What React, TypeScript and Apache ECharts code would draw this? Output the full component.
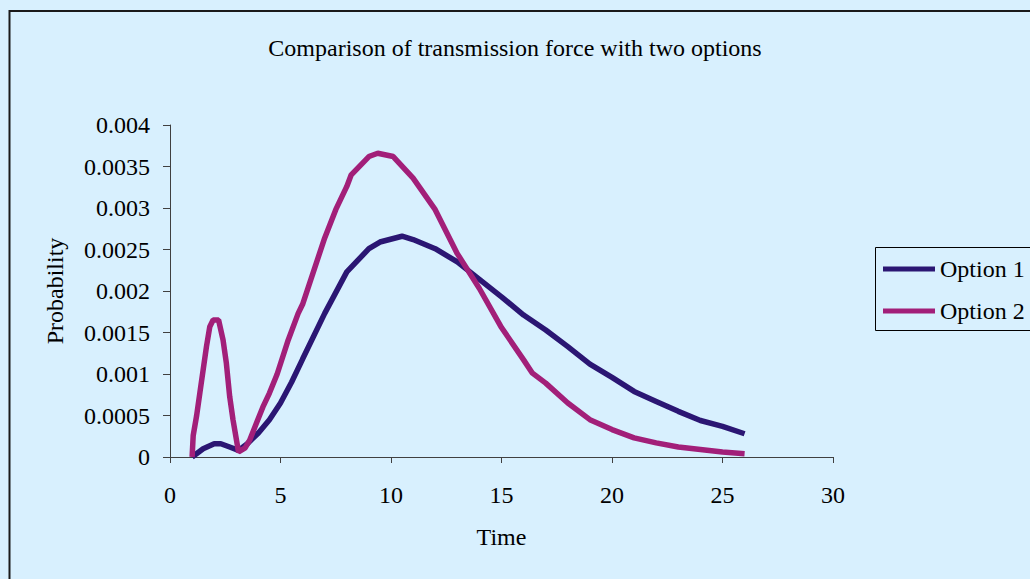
import React, { useEffect, useRef } from "react";
import * as echarts from "echarts";

const TITLE = "Comparison of transmission force with two options";
const X_NAME = "Time";
const Y_NAME = "Probability";
const SERIES_NAMES = ["Option 1", "Option 2"];

const option1Time = [1, 1.5, 2, 2.3, 2.7, 3.1, 3.5, 4, 4.5, 5, 5.5, 6, 7, 8, 9, 9.5, 10.5, 11, 12, 13, 14, 15, 16, 17, 18, 19, 20, 21, 22, 23, 24, 25, 26];
const option1Values = [0, 0.0001, 0.00016, 0.00016, 0.00012, 0.00008, 0.00016, 0.00029, 0.00045, 0.00065, 0.0009, 0.00118, 0.00173, 0.00223, 0.00251, 0.00259, 0.00266, 0.00262, 0.00251, 0.00235, 0.00214, 0.00193, 0.00171, 0.00153, 0.00133, 0.00112, 0.00096, 0.00079, 0.00067, 0.00055, 0.00044, 0.00037, 0.00028];

const option2Time = [1, 1.05, 1.2, 1.35, 1.5, 1.65, 1.8, 1.95, 2.2, 2.4, 2.55, 2.7, 2.85, 3.1, 3.4, 3.6, 3.9, 4.2, 4.5, 4.85, 5.35, 5.8, 6, 7, 7.5, 8, 8.2, 9, 9.4, 10.1, 11, 12, 13, 14, 15, 16, 16.4, 17, 18, 19, 20, 21, 22, 23, 24, 25, 26];
const option2Values = [0, 0.00026, 0.00049, 0.00077, 0.00105, 0.00133, 0.00157, 0.00165, 0.00165, 0.00141, 0.00113, 0.00073, 0.00045, 0.00006, 0.00011, 0.0002, 0.0004, 0.0006, 0.00077, 0.001, 0.00141, 0.00173, 0.00184, 0.00264, 0.00298, 0.00326, 0.0034, 0.00362, 0.00366, 0.00362, 0.00336, 0.00298, 0.00245, 0.00203, 0.00156, 0.00117, 0.00101, 0.00089, 0.00065, 0.00045, 0.00033, 0.00023, 0.00017, 0.00012, 0.00009, 0.00006, 0.00004];

const FONT = "'Liberation Serif', 'Times New Roman', serif";
const BG = "#D8F0FE";
const COLORS = ["#2B1673", "#A21F79"];

export default function App() {
  const ref = useRef<HTMLDivElement>(null);
  useEffect(() => {
    if (!ref.current) return;
    const chart = echarts.init(ref.current, null, { renderer: "svg" });
    const pairs = (xs: number[], ys: number[]) => xs.map((x, i) => [x, ys[i]]);
    chart.setOption({
      animation: false,
      backgroundColor: BG,
      textStyle: { fontFamily: FONT, color: "#000" },
      title: {
        text: TITLE,
        left: "center",
        top: 31,
        textStyle: { fontFamily: FONT, fontSize: 24, fontWeight: "normal", color: "#000" },
      },
      graphic: [
        {
          type: "rect",
          shape: { x: 9.5, y: 11, width: 1100, height: 700 },
          style: { fill: "none", stroke: "#1a1a1a", lineWidth: 2 },
          silent: true,
        },
        {
          type: "rect",
          shape: { x: 875.5, y: 247.5, width: 200, height: 83 },
          style: { fill: BG, stroke: "#000", lineWidth: 1 },
          silent: true,
          z: 0,
        },
      ],
      legend: {
        orient: "vertical",
        left: 877,
        top: 257,
        padding: [0, 0, 0, 6],
        itemGap: 18,
        itemWidth: 52,
        itemHeight: 5,
        icon: "rect",
        textStyle: { fontFamily: FONT, fontSize: 24, color: "#000" },
        data: SERIES_NAMES,
        z: 10,
      },
      grid: { left: 170, top: 125, right: 197, bottom: 122, containLabel: false },
      xAxis: {
        type: "value",
        min: 0,
        max: 30,
        interval: 5,
        name: X_NAME,
        nameLocation: "middle",
        nameGap: 68,
        nameTextStyle: { fontFamily: FONT, fontSize: 24, color: "#000" },
        axisLine: { show: true, lineStyle: { color: "#404040", width: 1 } },
        axisTick: { show: true, inside: false, length: 6, lineStyle: { color: "#404040" } },
        axisLabel: { fontFamily: FONT, fontSize: 24, color: "#000", margin: 26 },
        splitLine: { show: false },
      },
      yAxis: {
        type: "value",
        min: 0,
        max: 0.004,
        interval: 0.0005,
        name: Y_NAME,
        nameLocation: "middle",
        nameGap: 103,
        nameRotate: 90,
        nameTextStyle: { fontFamily: FONT, fontSize: 24, color: "#000" },
        axisLine: { show: true, lineStyle: { color: "#404040", width: 1 } },
        axisTick: { show: true, inside: false, length: 7, lineStyle: { color: "#404040" } },
        axisLabel: {
          fontFamily: FONT,
          fontSize: 24,
          color: "#000",
          margin: 20,
          formatter: (v: number) => String(parseFloat(v.toFixed(5))),
        },
        splitLine: { show: false },
      },
      series: [
        {
          name: SERIES_NAMES[0],
          type: "line",
          data: pairs(option1Time, option1Values),
          showSymbol: false,
          symbol: "none",
          lineStyle: { width: 5.5, color: COLORS[0] },
          itemStyle: { color: COLORS[0] },
        },
        {
          name: SERIES_NAMES[1],
          type: "line",
          data: pairs(option2Time, option2Values),
          showSymbol: false,
          symbol: "none",
          lineStyle: { width: 5.5, color: COLORS[1] },
          itemStyle: { color: COLORS[1] },
        },
      ],
    });
    return () => chart.dispose();
  }, []);
  return (
    <div
      ref={ref}
      style={{ position: "absolute", left: 0, top: 0, width: 1030, height: 579 }}
    />
  );
}
